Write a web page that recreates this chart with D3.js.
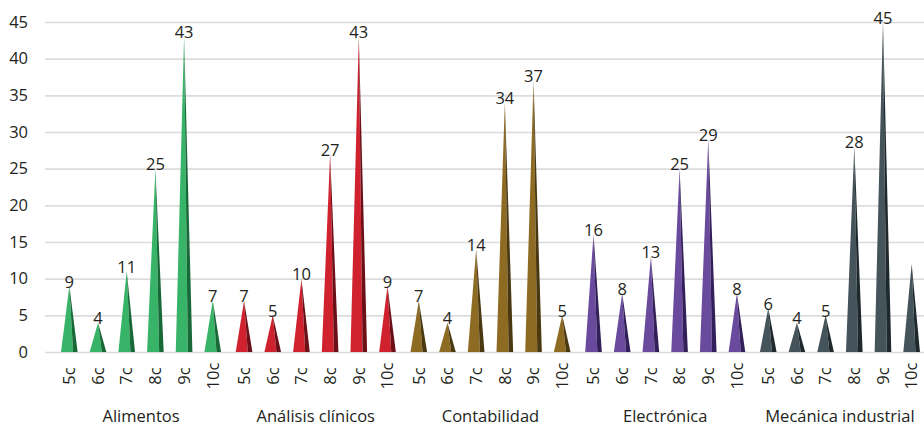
<!DOCTYPE html>
<html>
<head>
<meta charset="utf-8">
<script src="https://cdn.jsdelivr.net/npm/d3@7"></script>
<style>
  html, body { margin: 0; padding: 0; background: #fff; }
  svg { display: block; font-family: "Open Sans", "Noto Sans", sans-serif; }
</style>
</head>
<body>
<svg id="chart" width="924" height="427"></svg>
<script>
// Programmes (groups) and the semesters within each
const programs = ["Alimentos", "Análisis clínicos", "Contabilidad", "Electrónica", "Mecánica industrial"];
const semesters = ["5c", "6c", "7c", "8c", "9c", "10c"];

// Counts per semester, one list per programme
const alimentos = [9, 4, 11, 25, 43, 7];
const analisisClinicos = [7, 5, 10, 27, 43, 9];
const contabilidad = [7, 4, 14, 34, 37, 5];
const electronica = [16, 8, 13, 25, 29, 8];
const mecanicaIndustrial = [6, 4, 5, 28, 45, 12];

// Value labels that are not printed
const unlabelled = [["Mecánica industrial", "10c"]];

// Face colours per programme: [front face, shaded side]
const palette = {
  "Alimentos": ["#38b468", "#176a38"],
  "Análisis clínicos": ["#d0212e", "#6c0f17"],
  "Contabilidad": ["#8e6b23", "#4a3811"],
  "Electrónica": ["#6a4a9d", "#33205a"],
  "Mecánica industrial": ["#45535a", "#1e292d"]
};

const yTicks = [0, 5, 10, 15, 20, 25, 30, 35, 40, 45];

const seriesByProgram = {
  "Alimentos": alimentos,
  "Análisis clínicos": analisisClinicos,
  "Contabilidad": contabilidad,
  "Electrónica": electronica,
  "Mecánica industrial": mecanicaIndustrial
};

const rows = [];
programs.forEach(p => {
  semesters.forEach((s, i) => rows.push({ program: p, semester: s, value: seriesByProgram[p][i] }));
});

const svg = d3.select("#chart");
const W = 924;
const plotLeft = 45, baseY = 352, topY = 22;
const textColor = "#231f20";
const fontStack = "'Open Sans', 'Noto Sans', sans-serif";

const y = d3.scaleLinear().domain([0, 45]).range([baseY, topY]);
const x0 = d3.scaleBand().domain(programs).range([55, 926]).paddingInner(0.015);
const x1 = d3.scaleBand().domain(semesters).range([0, x0.bandwidth()]);

// Horizontal gridlines and y tick labels
const yAxis = svg.append("g")
  .attr("transform", `translate(${plotLeft},0)`)
  .call(d3.axisLeft(y).tickValues(yTicks).tickSize(-(W - plotLeft)).tickPadding(17));
yAxis.select(".domain").remove();
yAxis.selectAll(".tick line").attr("stroke", "#dcdcdc").attr("stroke-width", 1.6);
yAxis.selectAll(".tick text")
  .attr("fill", textColor)
  .attr("font-size", 16.5)
  .attr("font-family", fontStack);

// Cone-shaped bars: a lit front face and a narrow shaded side
const halfW = x1.bandwidth() * 0.29;
const split = 0.45;
const bars = svg.append("g");
rows.forEach(d => {
  const cx = x0(d.program) + x1(d.semester) + x1.bandwidth() / 2;
  const apex = y(d.value);
  const [front, side] = palette[d.program];
  bars.append("path")
    .attr("d", `M${cx - halfW},${baseY}L${cx},${apex}L${cx + halfW * split},${baseY}Z`)
    .attr("fill", front);
  bars.append("path")
    .attr("d", `M${cx + halfW * split},${baseY}L${cx},${apex}L${cx + halfW},${baseY}Z`)
    .attr("fill", side);
});

// Value labels over each cone
const isUnlabelled = d => unlabelled.some(([p, s]) => p === d.program && s === d.semester);
svg.append("g").selectAll("text")
  .data(rows.filter(d => !isUnlabelled(d)))
  .join("text")
  .attr("x", d => x0(d.program) + x1(d.semester) + x1.bandwidth() / 2)
  .attr("y", d => y(d.value) + 1.5)
  .attr("text-anchor", "middle")
  .attr("font-size", 16.5)
  .attr("fill", textColor)
  .text(d => d.value);

// Rotated semester ticks under each programme
programs.forEach(p => {
  const g = svg.append("g")
    .attr("transform", `translate(${x0(p)},${baseY})`)
    .call(d3.axisBottom(x1).tickSize(0));
  g.select(".domain").remove();
  g.selectAll(".tick text")
    .attr("y", 0)
    .attr("dy", "0.35em")
    .attr("transform", "translate(0,24) rotate(-90)")
    .attr("text-anchor", "middle")
    .attr("fill", textColor)
    .attr("font-size", 16.5)
    .attr("font-family", fontStack);
});

// Programme names
svg.append("g").selectAll("text")
  .data(programs)
  .join("text")
  .attr("x", p => x0(p) + x0.bandwidth() / 2)
  .attr("y", 422)
  .attr("text-anchor", "middle")
  .attr("font-size", 16.5)
  .attr("fill", textColor)
  .text(p => p);
</script>
</body>
</html>
